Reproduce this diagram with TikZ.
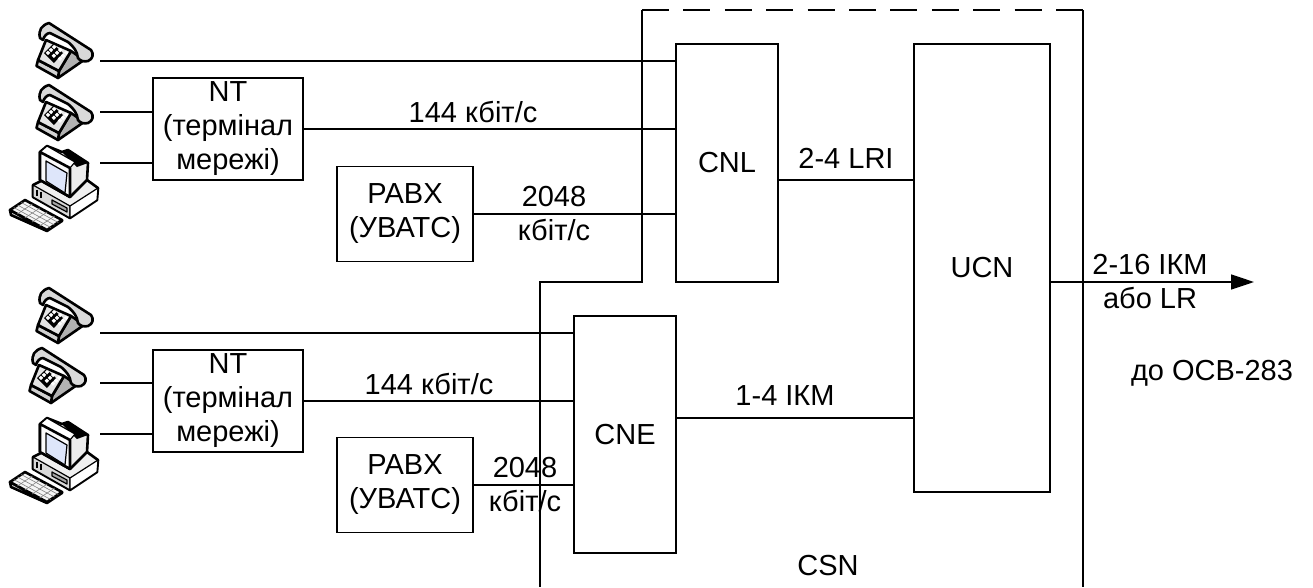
\documentclass[tikz,border=0pt]{standalone}
\usepackage{fontspec}
\setmainfont{Liberation Sans}
\usetikzlibrary{arrows.meta}
\definecolor{screenblue}{RGB}{222,230,250}
\tikzset{
  x=1pt, y=-1pt,
  wire/.style={line width=1.7pt},
  unit/.style={draw, rectangle, line width=1.7pt, inner sep=0pt, align=center},
  lbl/.style={inner sep=0pt, align=center},
  icon/.style={line width=2.6pt, line join=round},
  thin icon/.style={line width=1.2pt, line join=round},
  telephone/.pic={
    \draw[icon, fill=gray!60] (35,28) -- (48,37) -- (22,55) -- (23,48) -- cycle;
    \draw[icon, fill=gray!35] (2,37) -- (0.5,43) -- (22,55) -- (23,48) -- cycle;
    \draw[icon, fill=gray!20] (10,17) -- (35,28) -- (23,48) -- (2,37) -- cycle;
    \fill (8,30) -- (17,21) -- (27,30) -- (18,40) -- cycle;
    \foreach \u in {0,1,2} \foreach \v in {0,1,2}
      \fill[white] ({9.7+\u*6+\v*3.1},{29.8+\u*2.9-\v*2.9}) ++(0,0) -- ++(2.2,-2.1) -- ++(2.3,2.1) -- ++(-2.2,2.3) -- cycle;
    \draw[icon, fill=gray!30] (4,15) .. controls (2,7) and (6,2) .. (13,0) -- (55,27)
      .. controls (58,31) and (57,36) .. (52,38) .. controls (48,39) and (44,38) .. (42,35)
      .. controls (41,28) and (38,24) .. (32,19) -- (14,10) .. controls (11,10) and (8,13) .. (7,17) -- cycle;
  },
  computer/.pic={
    % keyboard
    \draw[icon, fill=gray!30] (5,70) -- (6,75) -- (42,91) -- (57,81) -- (57,80) -- (42,90) -- cycle;
    \draw[icon, fill=gray!8] (5,70) -- (20,60) -- (57,80) -- (42,90) -- cycle;
    \foreach \t in {.25,.5,.75}
      \draw[gray, line width=.6pt] ({5+15*\t},{70-10*\t}) -- ({42+15*\t},{90-10*\t});
    \foreach \t in {.2,.4,.6,.8}
      \draw[gray, line width=.6pt] ({5+37*\t},{70+20*\t}) -- ({20+37*\t},{60+20*\t});
    % base
    \draw[icon, fill=gray!12] (28,45) -- (38,40) -- (82,40) -- (93,48) -- (92,60) -- (65,78) -- (28,57) -- cycle;
    \draw[thin icon, fill=gray!30] (28,45) -- (65,66) -- (65,78) -- (28,57) -- cycle;
    \draw[thin icon, fill=white] (65,66) -- (93,48) -- (92,60) -- (65,78) -- cycle;
    \draw[thin icon, fill=gray!70] (47,60) -- (62,68) -- (62,72) -- (47,64) -- cycle;
    \draw[line width=1.4pt] (32,50) -- (32,56) (36,52) -- (36,58);
    % monitor
    \draw[icon, fill=gray!15] (35,12) -- (42,6) -- (57,12) -- (63,10) -- (83,23) -- (82,40) -- (65,57) -- (35,40) -- cycle;
    \fill (57,12) -- (63,10) -- (83,23) -- (72,27) -- cycle;
    \draw[thin icon, fill=white] (35,12) -- (42,6) -- (70,22) -- (65,28) -- cycle;
    \draw[icon, fill=gray!4] (35,12) -- (65,28) -- (65,57) -- (35,40) -- cycle;
    \draw[thin icon, fill=screenblue] (41,21) -- (62,33) -- (60,53) -- (41,41) -- cycle;
  }
}
\begin{document}
\begin{tikzpicture}[font=\fontsize{29}{34}\selectfont]
    \useasboundingbox (0,0) rectangle (1313,587);
    % blocks
    \node[unit, minimum width=102pt, minimum height=238pt] (CNL) at (727,163) {CNL};
    \node[unit, minimum width=136pt, minimum height=448pt] (UCN) at (982,268) {UCN};
    \node[unit, minimum width=102pt, minimum height=237pt] (CNE) at (625,434.5) {CNE};
    \node[unit, minimum width=150pt, minimum height=102pt] (NTa) at (228,129) {NT\\(термінал\\мережі)};
    \node[unit, minimum width=150pt, minimum height=102pt] (NTb) at (228,401) {NT\\(термінал\\мережі)};
    \node[unit, minimum width=136pt, minimum height=95pt] (PBXa) at (405,214) {PABX\\(УВАТС)};
    \node[unit, minimum width=136pt, minimum height=95pt] (PBXb) at (405,485) {PABX\\(УВАТС)};
    % terminals
    \pic at (36,23) {telephone};
    \pic at (36,85) {telephone};
    \pic at (5,140) {computer};
    \pic at (36,288) {telephone};
    \pic at (29,348) {telephone};
    \pic at (5,412) {computer};
    \coordinate (TelA) at (100,61);
    \coordinate (TelB) at (100,112);
    \coordinate (PcA) at (100,163);
    \coordinate (TelC) at (100,333);
    \coordinate (TelD) at (100,383);
    \coordinate (PcB) at (100,434);
    \coordinate (LinkA) at (846,180);
    \coordinate (LinkB) at (785,418);
    \coordinate (Out) at (1050,282);
    \coordinate (OutEnd) at (1254,282);
    % CSN border
    \coordinate (CSNa) at (1083,587);
    \coordinate (CSNb) at (1083,10);
    \coordinate (CSNc) at (642,10);
    \coordinate (CSNd) at (642,282);
    \coordinate (CSNe) at (540,282);
    \coordinate (CSNf) at (540,587);
    \draw[wire] (CSNb) -- (CSNa);
    \draw[wire] (CSNc) -- (CSNd) -- (CSNe) -- (CSNf);
    \draw[wire, dash pattern=on 27pt off 14.4pt] (CSNc) -- (CSNb);
    % connectors
    \draw[wire] (TelA) -- (TelA -| CNL.west);
    \draw[wire] (TelB) -- (TelB -| NTa.west);
    \draw[wire] (PcA) -- (PcA -| NTa.west);
    \draw[wire] (NTa.east) -- (NTa.east -| CNL.west);
    \draw[wire] (PBXa.east) -- (PBXa.east -| CNL.west);
    \draw[wire] (LinkA -| CNL.east) -- (LinkA -| UCN.west);
    \draw[wire] (TelC) -- (TelC -| CNE.west);
    \draw[wire] (TelD) -- (TelD -| NTb.west);
    \draw[wire] (PcB) -- (PcB -| NTb.west);
    \draw[wire] (NTb.east) -- (NTb.east -| CNE.west);
    \draw[wire] (PBXb.east) -- (PBXb.east -| CNE.west);
    \draw[wire] (LinkB -| CNE.east) -- (LinkB -| UCN.west);
    \draw[wire, -{Triangle[length=23pt,width=15pt]}] (Out) -- (OutEnd);
    % labels
    \node[lbl] (RateA) at (473,112) {144 кбіт/с};
    \node[lbl] (RateB) at (554,214) {2048\\кбіт/с};
    \node[lbl] (RateC) at (429,384) {144 кбіт/с};
    \node[lbl] (RateD) at (525,485) {2048\\кбіт/с};
    \node[lbl] (LRI) at (846,158) {2-4 LRI};
    \node[lbl] (IKM) at (785,396) {1-4 ІКМ};
    \node[lbl] (OutTxt) at (1150,282) {2-16 ІКМ\\або LR};
    \node[lbl] (Dest) at (1212,373) {до ОСВ-283};
    \node[lbl] (CSN) at (828,566) {CSN};
\end{tikzpicture}
\end{document}
